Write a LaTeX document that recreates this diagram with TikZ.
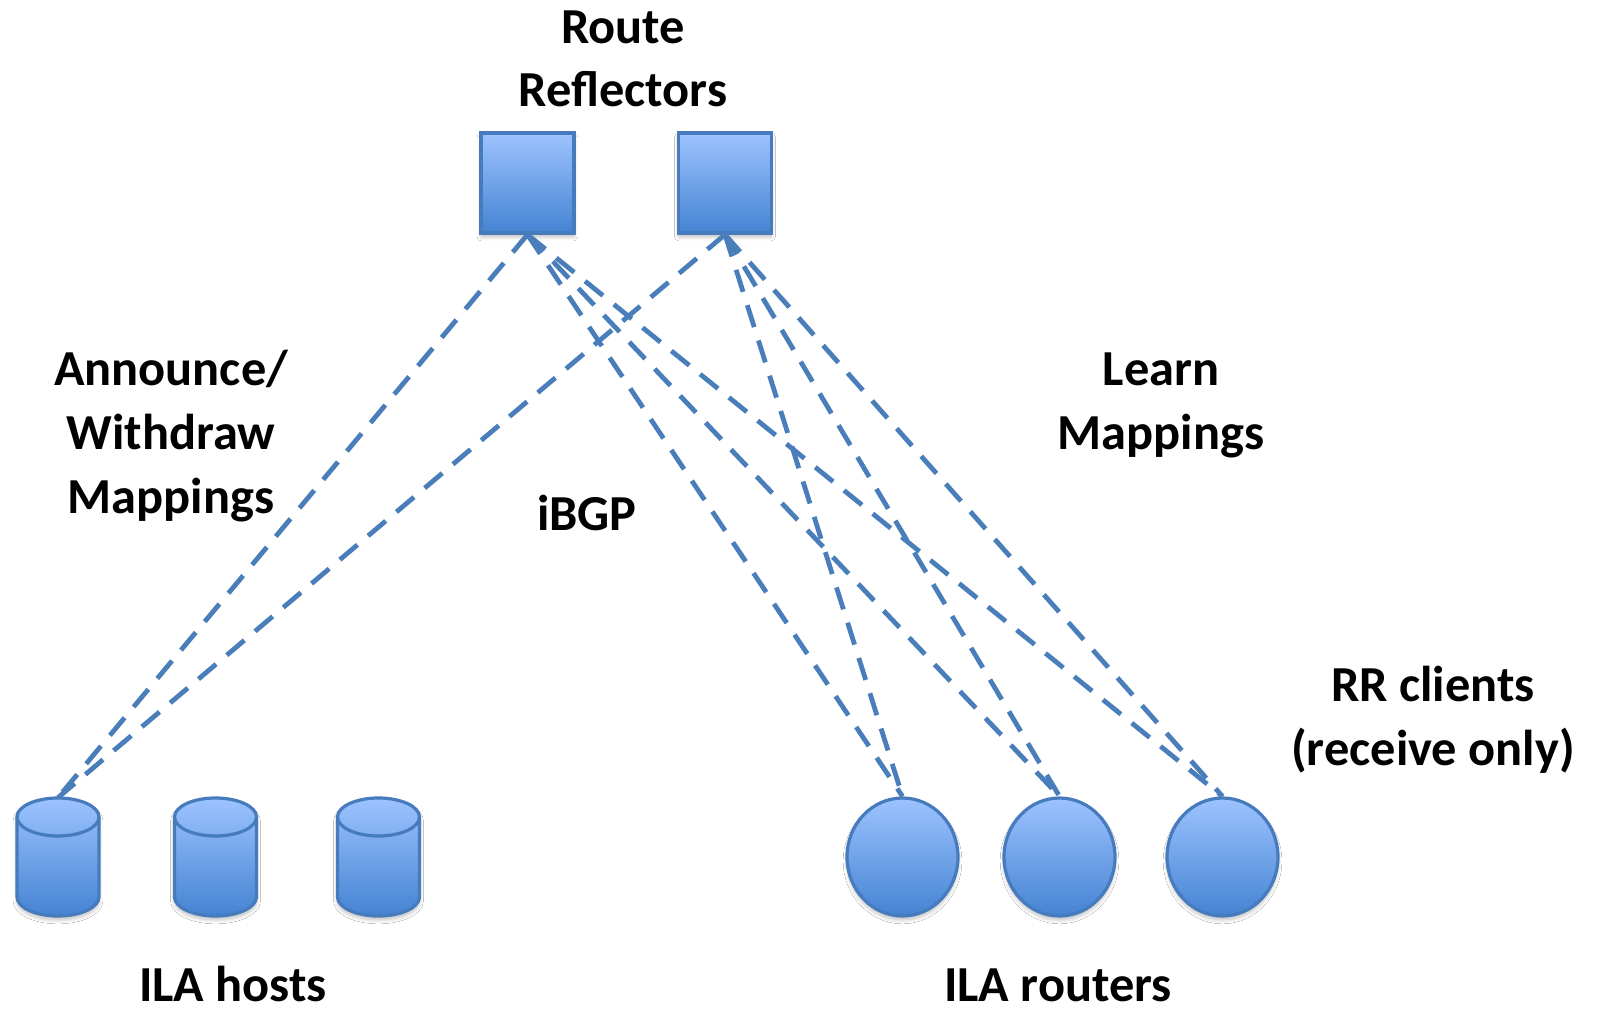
\documentclass[tikz,border=0pt]{standalone}
\usepackage{fontspec}
\setmainfont{Carlito}
\usetikzlibrary{shapes.geometric,shadows.blur}

\definecolor{shapetop}{HTML}{9DC3FF}
\definecolor{shapebot}{HTML}{4583D2}
\definecolor{shapeedge}{HTML}{467CBE}
\definecolor{linkblue}{HTML}{4A7EBB}

\tikzset{
  x=0.5pt, y=0.5pt,
  shapefill/.style={top color=shapetop, bottom color=shapebot, draw=shapeedge, line width=1.6pt,
    blur shadow={shadow xshift=0pt, shadow yshift=-2pt, shadow blur steps=6, shadow opacity=25}},
  reflector/.style={shapefill, rectangle, minimum width=46.5pt, minimum height=50pt, inner sep=0pt},
  router/.style={shapefill, ellipse, minimum width=55.5pt, minimum height=59pt, inner sep=0pt},
  hostspot/.style={rectangle, minimum width=41pt, minimum height=59pt, inner sep=0pt},
  link/.style={draw=linkblue, line width=2.4pt, dash pattern=on 11.5pt off 7pt},
  labelfont/.style={font=\fontsize{25.2pt}{31.8pt}\selectfont\bfseries, anchor=base, inner sep=0pt},
  label/.style={labelfont, align=center},
  footlabel/.style={labelfont}
}

\begin{document}
\begin{tikzpicture}
  % canvas
  \path[fill=white] (0,0) rectangle (1597,1014);
  \useasboundingbox (0,0) rectangle (1597,1014);

  % route reflectors
  \node[reflector] (rr1) at (527.5,831) {};
  \node[reflector] (rr2) at (725,831) {};

  % ILA hosts: a placeholder node each, the cylinder drawn around it
  \foreach \n/\x in {h1/58,h2/215.5,h3/378.5}{
    \node[hostspot] (\n) at (\x,157) {};
    \path[shapefill] (\x-41,197) -- (\x-41,117)
      arc[start angle=180, end angle=360, x radius=41, y radius=19]
      -- (\x+41,197)
      arc[start angle=0, end angle=180, x radius=41, y radius=19] -- cycle;
    \draw[draw=shapeedge, line width=1.6pt] (\x-41,197)
      arc[start angle=180, end angle=360, x radius=41, y radius=19];
  }

  % ILA routers
  \node[router] (r1) at (902.5,157) {};
  \node[router] (r2) at (1059.5,157) {};
  \node[router] (r3) at (1222.5,157) {};

  % iBGP sessions
  \foreach \s in {rr1,rr2}{
    \foreach \t in {h1,r1,r2,r3}{
      \draw[link] (\s.south) -- (\t.north);
    }
  }

  % labels (base anchor sits on the last line)
  \node[label] (lrr) at (623,907) {Route\\Reflectors};
  \node[label] (lann) at (171,501) {Announce/\\Withdraw\\Mappings};
  \node[label] (llearn) at (1161,564.5) {Learn\\Mappings};
  \node[label] (libgp) at (587,483) {iBGP};
  \node[label] (lrrc) at (1433,248.5) {RR clients\\(receive only)};
  \node[footlabel] (lhosts) at (233,13) {ILA hosts};
  \node[footlabel] (lrouters) at (1058,13) {ILA routers};
\end{tikzpicture}
\end{document}
